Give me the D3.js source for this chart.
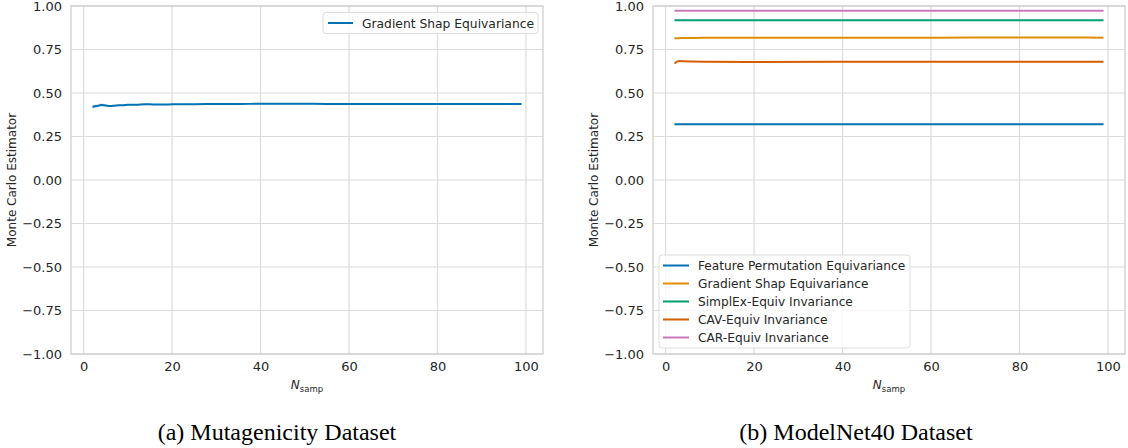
<!DOCTYPE html>
<html lang="en">
<head>
    <meta charset="UTF-8">
    <title>Monte Carlo Estimator</title>
    <style>
        body { margin: 0; background: #fff; }
        svg { display: block; }
        text { font-family: 'DejaVu Sans', sans-serif; fill: #262626; }
        .caption { font-family: 'Liberation Serif', 'Times New Roman', serif; fill: #000; }
    </style>
</head>
<body>
    <script src="https://d3js.org/d3.v7.min.js"></script>
    <script>
        const W = 1128
        const H = 448

        // left panel: Mutagenicity, Gradient Shap Equivariance
        const mutaX = [2, 3, 4, 5, 6, 7, 8, 9, 10, 12, 14, 16, 18, 20, 25, 30, 35, 40, 45, 50, 55, 60, 65, 70, 75, 80, 85, 90, 95, 99]
        const mutaY = [0.421, 0.425, 0.431, 0.428, 0.425, 0.427, 0.429, 0.430, 0.432, 0.433, 0.436, 0.434, 0.434, 0.435, 0.436, 0.437, 0.437, 0.438, 0.438, 0.438, 0.437, 0.437, 0.437, 0.437, 0.437, 0.437, 0.437, 0.437, 0.437, 0.437]
        const mutaBand = [0.010, 0.009, 0.008, 0.006, 0.005, 0.004, 0.004, 0.003, 0.003, 0.003, 0.003, 0.002, 0.002, 0.002, 0.002, 0.002, 0.002, 0.002, 0.002, 0.002, 0.002, 0.001, 0.001, 0.001, 0.001, 0.001, 0.001, 0.001, 0.001, 0.001]

        // right panel: ModelNet40
        const netX = [2, 3, 4, 6, 10, 20, 40, 60, 80, 99]
        const netNames = ['Feature Permutation Equivariance', 'Gradient Shap Equivariance', 'SimplEx-Equiv Invariance', 'CAV-Equiv Invariance', 'CAR-Equiv Invariance']
        const netColors = ['#0173b2', '#de8f05', '#029e73', '#d55e00', '#cc78bc']
        const netY = [
            [0.320, 0.320, 0.320, 0.320, 0.320, 0.320, 0.320, 0.320, 0.320, 0.320],
            [0.815, 0.815, 0.816, 0.816, 0.818, 0.817, 0.818, 0.818, 0.819, 0.818],
            [0.918, 0.918, 0.918, 0.918, 0.918, 0.918, 0.918, 0.918, 0.918, 0.918],
            [0.670, 0.684, 0.682, 0.681, 0.680, 0.678, 0.679, 0.680, 0.680, 0.680],
            [0.972, 0.972, 0.972, 0.972, 0.972, 0.972, 0.972, 0.972, 0.972, 0.972]
        ]

        const yTicks = [-1, -0.75, -0.5, -0.25, 0, 0.25, 0.5, 0.75, 1]
        const xTicks = [0, 20, 40, 60, 80, 100]

        const svg = d3.select('body').append('svg')
            .attr('width', W)
            .attr('height', H)

        function panel(left, right, top, bottom) {
            const x = d3.scaleLinear().domain([-2.85, 103.85]).range([left, right])
            const y = d3.scaleLinear().domain([-1, 1]).range([bottom, top])
            const g = svg.append('g')

            // grid
            g.selectAll('.gx').data(xTicks).enter().append('line')
                .attr('x1', d => x(d)).attr('x2', d => x(d))
                .attr('y1', top).attr('y2', bottom)
                .attr('stroke', '#dcdcdc').attr('stroke-width', 1.2)
            g.selectAll('.gy').data(yTicks).enter().append('line')
                .attr('x1', left).attr('x2', right)
                .attr('y1', d => y(d)).attr('y2', d => y(d))
                .attr('stroke', '#dcdcdc').attr('stroke-width', 1.2)

            // frame
            g.append('rect')
                .attr('x', left).attr('y', top)
                .attr('width', right - left).attr('height', bottom - top)
                .attr('fill', 'none').attr('stroke', '#cccccc').attr('stroke-width', 1.2)

            const xAxis = d3.axisBottom(x).tickValues(xTicks).tickSize(0).tickPadding(8).tickFormat(d3.format('d'))
            const gx = g.append('g').attr('transform', `translate(0,${bottom})`).call(xAxis)
            gx.select('.domain').remove()
            gx.selectAll('text').attr('font-size', 13).attr('fill', '#262626').attr('font-family', 'DejaVu Sans')

            const yAxis = d3.axisLeft(y).tickValues(yTicks).tickSize(0).tickPadding(9)
                .tickFormat(d => d3.format('.2f')(d).replace('-', '\u2212'))
            const gy = g.append('g').attr('transform', `translate(${left},0)`).call(yAxis)
            gy.select('.domain').remove()
            gy.selectAll('text').attr('font-size', 13).attr('fill', '#262626').attr('font-family', 'DejaVu Sans')

            // axis labels
            g.append('text')
                .attr('transform', `translate(${left - 55},${(top + bottom) / 2}) rotate(-90)`)
                .attr('text-anchor', 'middle')
                .attr('font-size', 12)
                .text('Monte Carlo Estimator')

            const xl = g.append('text')
                .attr('x', (left + right) / 2)
                .attr('y', bottom + 35)
                .attr('text-anchor', 'middle')
                .attr('font-size', 12)
            xl.append('tspan').attr('font-style', 'italic').text('N')
            xl.append('tspan').attr('font-size', 8.5).attr('dy', 3).text('samp')

            return { g, x, y }
        }

        // left panel
        const p1 = panel(71, 543, 6, 354)
        const area = d3.area()
            .x((d, i) => p1.x(mutaX[i]))
            .y0((d, i) => p1.y(d - mutaBand[i]))
            .y1((d, i) => p1.y(d + mutaBand[i]))
            .curve(d3.curveMonotoneX)
        p1.g.append('path').datum(mutaY)
            .attr('d', area)
            .attr('fill', '#0173b2').attr('fill-opacity', 0.2)
        const line1 = d3.line()
            .x((d, i) => p1.x(mutaX[i]))
            .y(d => p1.y(d))
            .curve(d3.curveMonotoneX)
        p1.g.append('path').datum(mutaY)
            .attr('d', line1)
            .attr('fill', 'none').attr('stroke', '#0173b2').attr('stroke-width', 2)

        // left legend
        const leg1 = p1.g.append('g')
        leg1.append('rect')
            .attr('x', 323).attr('y', 12.5).attr('width', 215).attr('height', 21).attr('rx', 3)
            .attr('fill', '#fff').attr('fill-opacity', 0.8).attr('stroke', '#dddddd')
        leg1.append('line')
            .attr('x1', 328).attr('x2', 353).attr('y1', 23).attr('y2', 23)
            .attr('stroke', '#0173b2').attr('stroke-width', 2)
        leg1.append('text')
            .attr('x', 362).attr('y', 27.5).attr('font-size', 12.3)
            .text('Gradient Shap Equivariance')

        // right panel
        const p2 = panel(653, 1125, 6, 354)
        const line2 = d3.line()
            .x((d, i) => p2.x(netX[i]))
            .y(d => p2.y(d))
            .curve(d3.curveMonotoneX)
        netY.forEach((s, k) => {
            p2.g.append('path').datum(s)
                .attr('d', line2)
                .attr('fill', 'none').attr('stroke', netColors[k]).attr('stroke-width', 2)
        })

        const leg2 = p2.g.append('g')
        leg2.append('rect')
            .attr('x', 659).attr('y', 255).attr('width', 251).attr('height', 93).attr('rx', 3)
            .attr('fill', '#fff').attr('fill-opacity', 0.8).attr('stroke', '#dddddd')
        netNames.forEach((n, k) => {
            const yy = 265.5 + k * 18
            leg2.append('line')
                .attr('x1', 663).attr('x2', 689).attr('y1', yy).attr('y2', yy)
                .attr('stroke', netColors[k]).attr('stroke-width', 2)
            leg2.append('text')
                .attr('x', 698).attr('y', yy + 4.5).attr('font-size', 12.2)
                .text(n)
        })

        // captions
        svg.append('text').attr('class', 'caption')
            .attr('x', 277).attr('y', 440).attr('text-anchor', 'middle')
            .attr('font-size', 24)
            .text('(a) Mutagenicity Dataset')
        svg.append('text').attr('class', 'caption')
            .attr('x', 856).attr('y', 440).attr('text-anchor', 'middle')
            .attr('font-size', 24)
            .text('(b) ModelNet40 Dataset')
    </script>
</body>
</html>
